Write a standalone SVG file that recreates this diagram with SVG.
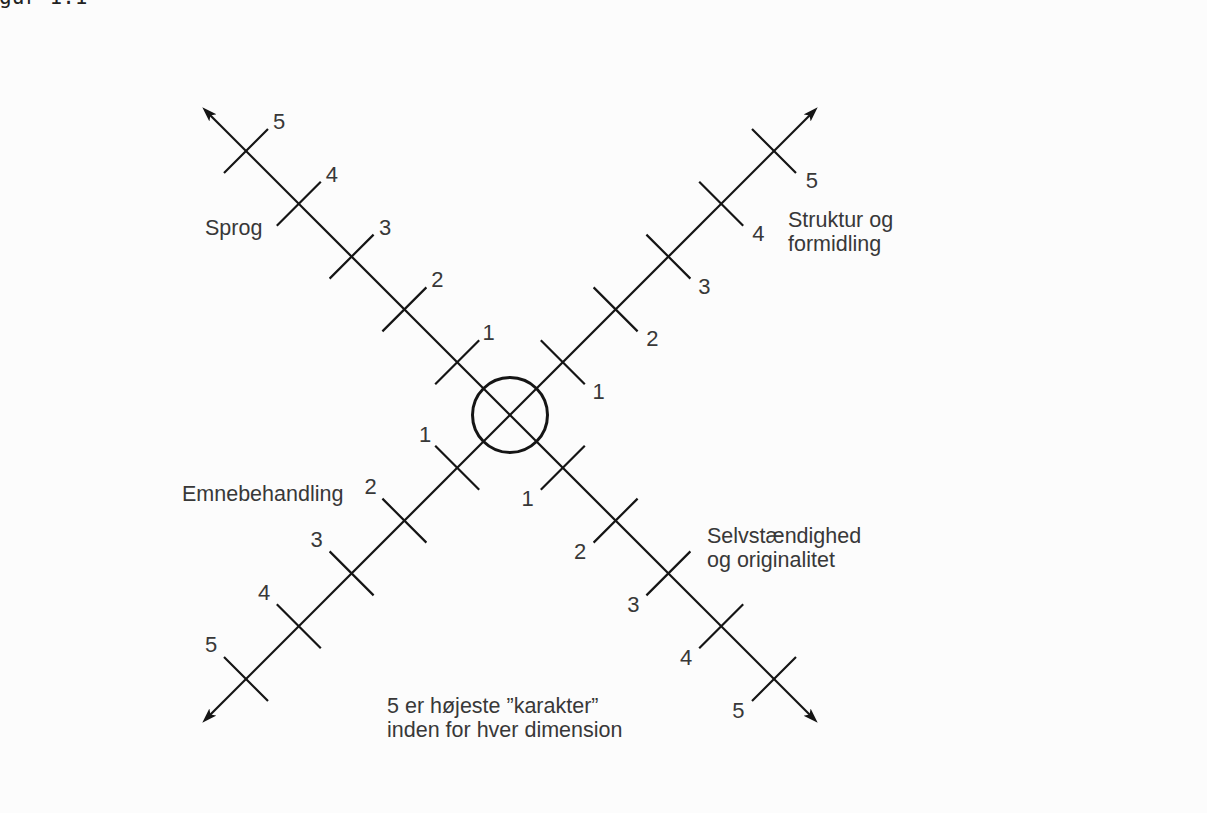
<svg xmlns="http://www.w3.org/2000/svg" width="1207" height="813" viewBox="0 0 1207 813">
  <defs>
    <marker id="arrow" markerUnits="userSpaceOnUse" markerWidth="18" markerHeight="12" refX="8" refY="5.5" orient="auto">
      <path d="M0,0.5 L15,5.5 L0,10.5 L3.5,5.5 Z" fill="#151515"/>
    </marker>
    <style>
      .axis { stroke: #151515; stroke-width: 2.2; fill: none; }
      .tick { stroke: #151515; stroke-width: 2.2; fill: none; }
      .lbl { font-family: "Liberation Sans", Arial, sans-serif; font-size: 21.5px; fill: #383838; }
      .num { font-family: "Liberation Sans", Arial, sans-serif; font-size: 22px; fill: #383838; }
      .cap { font-family: "DejaVu Sans Mono", "Liberation Mono", monospace; font-size: 21px; fill: #222; }
    </style>
  </defs>
  <rect x="0" y="0" width="1207" height="813" fill="#fcfcfc"/>
  <text class="cap" x="-1" y="3.5">gur 1.1</text>

  <g id="connectors">
    <line class="axis" x1="510" y1="415" x2="207.24" y2="112.24" marker-end="url(#arrow)"/>
    <line class="axis" x1="510" y1="415" x2="812.76" y2="112.24" marker-end="url(#arrow)"/>
    <line class="axis" x1="510" y1="415" x2="207.24" y2="717.76" marker-end="url(#arrow)"/>
    <line class="axis" x1="510" y1="415" x2="812.76" y2="717.76" marker-end="url(#arrow)"/>
  </g>

  <g id="center">
    <circle cx="510" cy="415" r="37.5" fill="none" stroke="#151515" stroke-width="3"/>
  </g>

  <g id="sprog">
    <path class="tick" d="M435.2,384.2 L479.2,340.2 M382.4,331.4 L426.4,287.4 M329.6,278.6 L373.6,234.6 M276.8,225.8 L320.8,181.8 M224,173 L268,129"/>
    <text class="num" x="482.5" y="340">1</text>
    <text class="num" x="431.3" y="287">2</text>
    <text class="num" x="379" y="234.5">3</text>
    <text class="num" x="325.7" y="182">4</text>
    <text class="num" x="273" y="129">5</text>
    <text class="lbl" x="205" y="235">Sprog</text>
  </g>

  <g id="struktur">
    <path class="tick" d="M540.8,340.2 L584.8,384.2 M593.6,287.4 L637.6,331.4 M646.4,234.6 L690.4,278.6 M699.2,181.8 L743.2,225.8 M752,129 L796,173"/>
    <text class="num" x="592.5" y="399">1</text>
    <text class="num" x="646.3" y="346">2</text>
    <text class="num" x="698.3" y="293.5">3</text>
    <text class="num" x="752.3" y="241">4</text>
    <text class="num" x="805.7" y="188">5</text>
    <text class="lbl" x="788" y="227">Struktur og</text>
    <text class="lbl" x="788" y="251">formidling</text>
  </g>

  <g id="emnebehandling">
    <path class="tick" d="M435.2,445.8 L479.2,489.8 M382.4,498.6 L426.4,542.6 M329.6,551.4 L373.6,595.4 M276.8,604.2 L320.8,648.2 M224,657 L268,701"/>
    <text class="num" x="419" y="442">1</text>
    <text class="num" x="364.5" y="494.3">2</text>
    <text class="num" x="310.5" y="546.7">3</text>
    <text class="num" x="258" y="600">4</text>
    <text class="num" x="205" y="652">5</text>
    <text class="lbl" x="182" y="501">Emnebehandling</text>
  </g>

  <g id="selvstaendighed">
    <path class="tick" d="M540.8,489.8 L584.8,445.8 M593.6,542.6 L637.6,498.6 M646.4,595.4 L690.4,551.4 M699.2,648.2 L743.2,604.2 M752,701 L796,657"/>
    <text class="num" x="521.5" y="506">1</text>
    <text class="num" x="574" y="559">2</text>
    <text class="num" x="627.3" y="611.7">3</text>
    <text class="num" x="680" y="665">4</text>
    <text class="num" x="732.3" y="718.3">5</text>
    <text class="lbl" x="707" y="543">Selvstændighed</text>
    <text class="lbl" x="707" y="567">og originalitet</text>
  </g>

  <g id="note">
    <text class="lbl" x="387" y="713">5 er højeste ”karakter”</text>
    <text class="lbl" x="387" y="737">inden for hver dimension</text>
  </g>
</svg>
